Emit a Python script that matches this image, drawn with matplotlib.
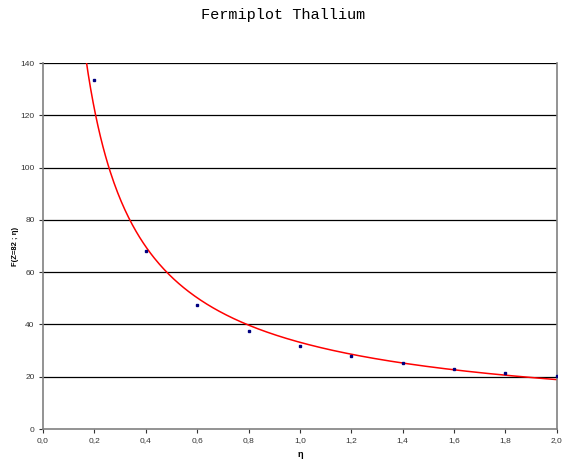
import numpy as np
import matplotlib
matplotlib.use("Agg")
import matplotlib.pyplot as plt
from matplotlib.ticker import FuncFormatter

plt.rcParams["font.family"] = ["Liberation Sans", "DejaVu Sans"]

# Measured Fermi function values for thallium (Z = 82)
eta = [0.2, 0.4, 0.6, 0.8, 1.0, 1.2, 1.4, 1.6, 1.8, 2.0]
fermi = [133.5, 68.1, 47.4, 37.5, 31.7, 27.9, 25.2, 23.0, 21.4, 20.3]

x_ticks = [0.0, 0.2, 0.4, 0.6, 0.8, 1.0, 1.2, 1.4, 1.6, 1.8, 2.0]
y_ticks = [0, 20, 40, 60, 80, 100, 120, 140]

# Power-law trend line y = a * x^b fitted in log space
b, ln_a = np.polyfit(np.log(eta), np.log(fermi), 1)
xs = np.linspace(0.1, 2.0, 400)
ys = np.exp(ln_a) * xs ** b

fig = plt.figure(figsize=(5.67, 4.61), dpi=100)
ax = fig.add_axes([0.0758, 0.0694, 0.9062, 0.7939])

for yv in y_ticks[1:]:
    ax.axhline(yv, color="black", lw=0.9, zorder=1)

ax.plot(xs, ys, color="#ff0000", lw=1.1, zorder=2)
ax.plot(eta, fermi, linestyle="none", marker="s", markersize=1.6,
        color="#000080", zorder=3)

ax.set_xlim(0, 2.0)
ax.set_ylim(0, 140)
ax.set_xticks(x_ticks)
ax.set_yticks(y_ticks)
ax.xaxis.set_major_formatter(FuncFormatter(lambda v, p: f"{v:.1f}".replace(".", ",")))
ax.yaxis.set_major_formatter(FuncFormatter(lambda v, p: f"{v:.0f}"))
ax.tick_params(axis="both", direction="out", length=3, width=0.8,
               labelsize=6, colors="#333333", pad=3)

for side in ["left", "bottom", "right"]:
    ax.spines[side].set_color("#808080")
    ax.spines[side].set_linewidth(1.2)
ax.spines["top"].set_visible(False)

ax.set_xlabel("η", fontsize=6.5, fontweight="bold", labelpad=4)
ax.set_ylabel("F(Z=82 ; η)", fontsize=5.5, fontweight="bold", labelpad=1)

fig.text(0.5, 0.967, "Fermiplot Thallium", ha="center", va="center",
         family="Liberation Mono", fontsize=11)

fig.savefig("out.png", dpi=100, facecolor="white")
